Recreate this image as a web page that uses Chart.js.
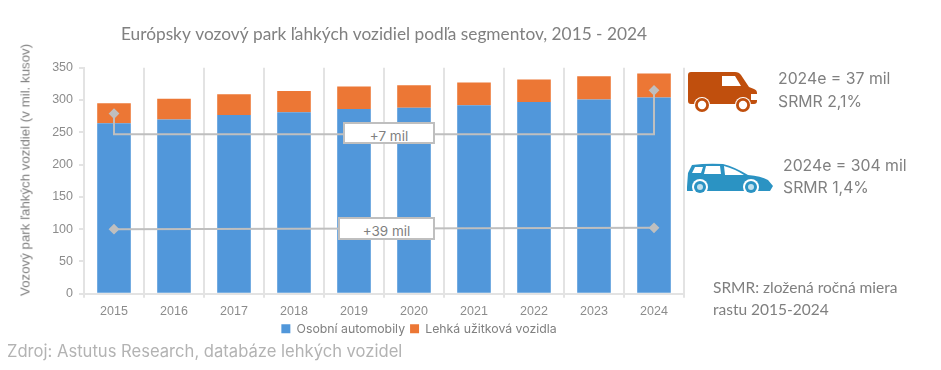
<!DOCTYPE html>
<html lang="sk">
<head>
<meta charset="utf-8">
<title>Európsky vozový park ľahkých vozidiel</title>
<script src="https://cdn.jsdelivr.net/npm/chart.js@4/dist/chart.umd.min.js"></script>
<style>
  html, body { margin: 0; padding: 0; background: #fff; }
  #stage { position: relative; width: 941px; height: 370px; overflow: hidden; font-family: Inter, sans-serif; }
  #stage canvas { position: absolute; left: 0; top: 0; }
  .note { position: absolute; color: #808080; white-space: nowrap; line-height: 1; }
  .big { font-size: 15.8px; }
  .small { font-family: Lato, sans-serif; font-size: 15.5px; color: #7f7f7f; }
  .badge { position: absolute; box-sizing: border-box; background: #fff; border: 2px solid #bfbfbf; color: #808080;
           font-size: 13.5px; text-align: center; line-height: 24px; white-space: nowrap; }
  #ytitle { position: absolute; left: 25px; top: 170px; transform: translate(-50%, -50%) rotate(-90deg);
            font-family: "Liberation Sans", sans-serif; font-size: 13.3px; color: #7f7f7f; white-space: nowrap; }
  #source { position: absolute; left: 7px; top: 342px; font-size: 16.6px; color: #b3b3b3; white-space: nowrap; line-height: 1.1; }
  svg { position: absolute; }
</style>
</head>
<body>
<div id="stage">
  <canvas id="chart" width="941" height="370"></canvas>
  <div id="ytitle">Vozový park ľahkých vozidiel (v mil. kusov)</div>
  <div class="badge" style="left:343px;top:122px;width:92px;height:22px">+7 mil</div>
  <div class="badge" style="left:338px;top:217px;width:97px;height:23px">+39 mil</div>

  <svg style="left:688px;top:72px" width="69" height="41" viewBox="0 0 69 41">
    <path fill="#c04f0d" d="M3 0H47Q51 0 53 3L61 15L66 17Q69 18 69 21V29Q69 32 66 32H3Q0 32 0 29V3Q0 0 3 0Z"/>
    <path fill="#fff" d="M34 4H47L53 14H34Z"/>
    <rect fill="#fff" x="63" y="22" width="6" height="6"/>
    <circle cx="14" cy="33" r="8" fill="#fff"/><circle cx="14" cy="33" r="7" fill="#c04f0d"/><circle cx="14" cy="33" r="4.2" fill="#fff"/>
    <circle cx="55" cy="33" r="8" fill="#fff"/><circle cx="55" cy="33" r="7" fill="#c04f0d"/><circle cx="55" cy="33" r="4.2" fill="#fff"/>
  </svg>
  <div class="note big" style="left:778px;top:71px">2024e = 37 mil</div>
  <div class="note big" style="left:778px;top:94px">SRMR 2,1%</div>

  <svg style="left:687px;top:163px" width="86" height="33" viewBox="0 0 86 33">
    <path fill="#2b93c3" d="M5 2Q20 0 36 1Q48 4 61 12Q74 13 81 17L86 23L83 28H0L0 24L1 10Z"/>
    <path fill="#fff" d="M8 4H16L14 10H5ZM19 3H33L34 11H17ZM37 3Q48 6 57 12H38Z"/>
    <circle cx="13" cy="24" r="8" fill="#fff"/><circle cx="13" cy="24" r="6" fill="#2b93c3"/><circle cx="13" cy="24" r="3" fill="#bfe0ee"/>
    <circle cx="64" cy="24" r="8" fill="#fff"/><circle cx="64" cy="24" r="6" fill="#2b93c3"/><circle cx="64" cy="24" r="3" fill="#bfe0ee"/>
  </svg>
  <div class="note big" style="left:783px;top:158px">2024e = 304 mil</div>
  <div class="note big" style="left:783px;top:180px">SRMR 1,4%</div>

  <div class="note small" style="left:713px;top:280px">SRMR: zložená ročná miera</div>
  <div class="note small" style="left:713px;top:302px">rastu 2015-2024</div>
  <div id="source">Zdroj: Astutus Research, databáze lehkých vozidel</div>
</div>

<script>
const years = ['2015', '2016', '2017', '2018', '2019', '2020', '2021', '2022', '2023', '2024'];
const cars = [264, 270, 277, 281, 286, 288, 292, 297, 301, 304];
const vans = [31, 32, 32, 33, 35, 35, 35, 35, 36, 37];
const yTicks = [0, 50, 100, 150, 200, 250, 300, 350];

// connector lines between first and last year
const vanLineYears = ['2015', '2015', '2024', '2024'];
const vanLineValues = [279, 247, 247, 315];
const carLineYears = ['2015', '2024'];
const carLineValues = [100, 102];

const GREY = '#808080';
const TICK_GREY = '#8c8c8c';
const LINE_GREY = '#bfbfbf';
const GRID_GREY = '#e3e3e3';

function connector(label, xs, ys) {
    return {
        type: 'line',
        label,
        stack: label,
        order: 0,
        data: xs.map((x, i) => ({ x, y: ys[i] })),
        borderColor: LINE_GREY,
        borderWidth: 2,
        tension: 0,
        fill: false,
        pointStyle: 'rectRot',
        pointBackgroundColor: LINE_GREY,
        pointBorderColor: LINE_GREY,
        pointRadius: xs.map((x, i) => (i === 0 || i === xs.length - 1 ? 4 : 0))
    };
}

// legend sits right of the plot centre and closer to the ticks in the original
const shiftLegend = {
    id: 'shiftLegend',
    afterLayout(chart) {
        chart.legend.left += 77;
        chart.legend.right += 77;
        chart.legend.top -= 7;
        chart.legend.bottom -= 7;
    }
};

new Chart(document.getElementById('chart'), {
    data: {
        labels: years,
        datasets: [
            { type: 'bar', label: 'Osobní automobily', data: cars, backgroundColor: '#5197da', order: 1, stack: 'fleet' },
            { type: 'bar', label: 'Lehká užitková vozidla', data: vans, backgroundColor: '#ec7735', order: 1, stack: 'fleet' },
            connector('vanLine', vanLineYears, vanLineValues),
            connector('carLine', carLineYears, carLineValues)
        ]
    },
    options: {
        responsive: false,
        animation: false,
        categoryPercentage: 1,
        barPercentage: 0.56,
        layout: { padding: { top: 24, right: 257, bottom: 18, left: 0 } },
        plugins: {
            tooltip: { enabled: false },
            title: {
                display: true,
                fullSize: false,
                text: 'Európsky vozový park ľahkých vozidiel podľa segmentov, 2015 - 2024',
                color: GREY,
                font: { family: 'Lato, sans-serif', size: 17.3, weight: 'normal' },
                padding: { top: 0, bottom: 23 }
            },
            legend: {
                position: 'bottom',
                labels: {
                    filter: item => !item.text.endsWith('Line'),
                    color: GREY,
                    font: { family: 'Inter, sans-serif', size: 12.3 },
                    boxWidth: 9,
                    boxHeight: 9,
                    padding: 5
                }
            }
        },
        scales: {
            x: {
                stacked: true,
                grid: { color: GRID_GREY, lineWidth: 2, tickLength: 4, offset: true },
                border: { color: GRID_GREY, width: 2 },
                ticks: { color: TICK_GREY, font: { family: '"Liberation Sans", sans-serif', size: 12.5 }, padding: 6, maxRotation: 0 }
            },
            y: {
                stacked: true,
                min: 0,
                max: 350,
                afterBuildTicks(scale) { scale.ticks = yTicks.map(value => ({ value })); },
                afterFit(scale) { scale.width = 84; },
                grid: { drawOnChartArea: false, color: GRID_GREY, lineWidth: 2, tickLength: 5 },
                border: { color: GRID_GREY, width: 2 },
                ticks: { color: TICK_GREY, font: { family: '"Liberation Sans", sans-serif', size: 12.5 }, padding: 6 }
            }
        }
    },
    plugins: [shiftLegend]
});
</script>
</body>
</html>
